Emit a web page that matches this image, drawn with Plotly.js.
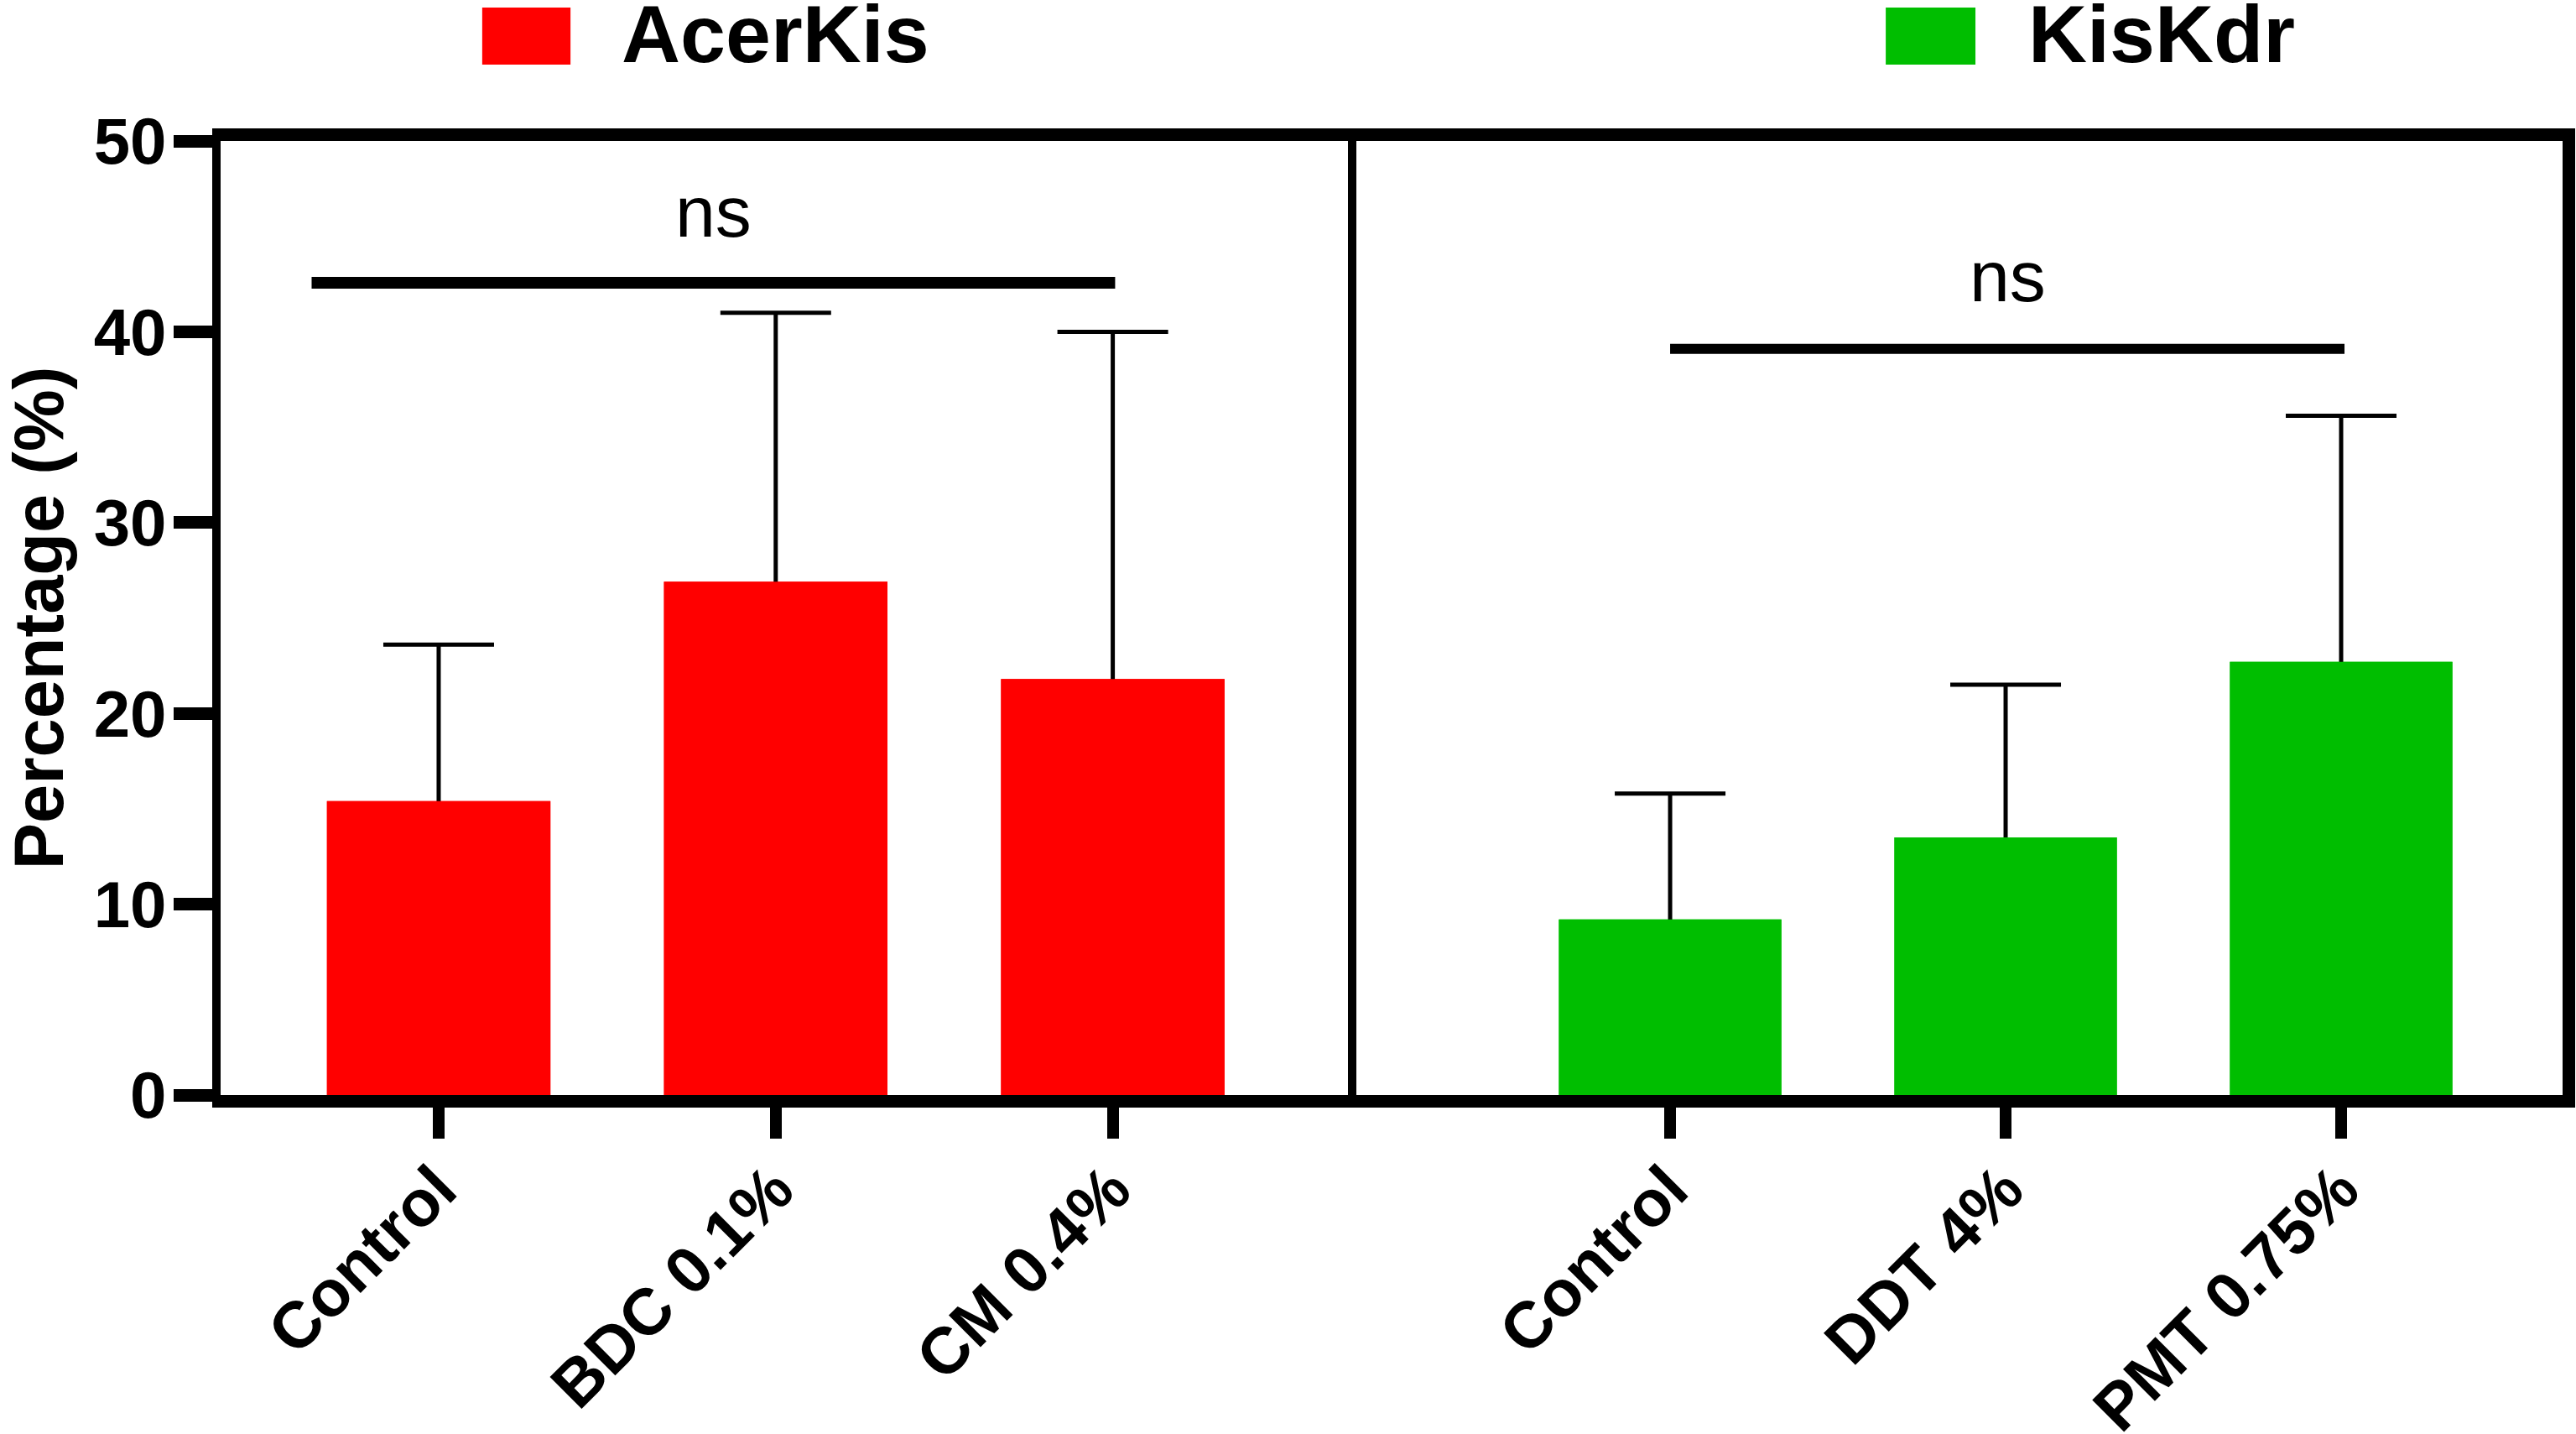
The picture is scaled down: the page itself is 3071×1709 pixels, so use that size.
<!DOCTYPE html>
<html>
<head>
<meta charset="utf-8">
<script src="https://cdn.plot.ly/plotly-3.0.1.min.js"></script>
<style>
  html, body { margin: 0; padding: 0; background: #fff; }
  #graph { width: 3071px; height: 1709px; }
</style>
</head>
<body>
<div id="graph"></div>
<script>
var acerGroups = ['Control', 'BDC 0.1%', 'CM 0.4%'];
var acerMean = [15.4, 26.9, 21.8];
var acerSD = [8.2, 14.1, 18.2];

var kdrGroups = ['Control', 'DDT 4%', 'PMT 0.75%'];
var kdrMean = [9.2, 13.5, 22.7];
var kdrSD = [6.6, 8.0, 12.9];

var yTicks = [0, 10, 20, 30, 40, 50];
var seriesNames = ['AcerKis', 'KisKdr'];
var sigText = ['ns', 'ns'];

var FONT = 'Arial, "Liberation Sans", sans-serif';
var RED = '#ff0000';
var GREEN = '#00be00';

function barTrace(x, y, sd, color, xa, ya) {
    // first copy carries the SD bars; the second copy covers the lower half
    var t = {x: x, y: y, type: 'bar', xaxis: xa, yaxis: ya,
        marker: {color: color, line: {width: 0}}, hoverinfo: 'skip', showlegend: false};
    if (sd) {
        t.error_y = {type: 'data', array: sd, symmetric: true, color: '#000', thickness: 5, width: 66};
    }
    return t;
}

var data = [
    barTrace(acerGroups, acerMean, acerSD, RED, 'x', 'y'),
    barTrace(acerGroups, acerMean, null, RED, 'x', 'y'),
    barTrace(kdrGroups, kdrMean, kdrSD, GREEN, 'x2', 'y2'),
    barTrace(kdrGroups, kdrMean, null, GREEN, 'x2', 'y2')
];

var xStyle = {
    type: 'category', showline: true, linewidth: 15, linecolor: '#000', mirror: true,
    ticks: 'outside', ticklen: 37, tickwidth: 14, tickcolor: '#000',
    tickangle: -45, ticklabelstandoff: -17, ticklabelshift: -2,
    tickfont: {family: FONT, size: 78, color: '#000', weight: 'bold'},
    showgrid: false, zeroline: false, fixedrange: true
};

var layout = {
    width: 3071, height: 1709,
    margin: {l: 263, r: 16, t: 168, b: 404},
    paper_bgcolor: '#fff', plot_bgcolor: '#fff',
    barmode: 'overlay', bargap: 0.337,
    showlegend: false,
    xaxis: Object.assign({}, xStyle, {domain: [0, 0.4814], range: [-0.647, 2.698], anchor: 'y'}),
    xaxis2: Object.assign({}, xStyle, {domain: [0.4814, 1], range: [-0.96, 2.66], anchor: 'y2'}),
    yaxis: {
        range: [0, 50], tickvals: yTicks, showline: true, linewidth: 10, linecolor: '#000', mirror: true,
        ticks: 'outside', ticklen: 46, tickwidth: 15, tickcolor: '#000', ticklabelstandoff: -7,
        tickfont: {family: FONT, size: 78, color: '#000', weight: 'bold'},
        showgrid: false, zeroline: false, fixedrange: true,
        title: {text: 'Percentage (%)', standoff: 51, font: {family: FONT, size: 83, color: '#000', weight: 'bold'}}
    },
    yaxis2: {
        anchor: 'x2', side: 'right', range: [0, 50], showline: true, linewidth: 15, linecolor: '#000',
        ticks: '', showticklabels: false, showgrid: false, zeroline: false, fixedrange: true
    },
    shapes: [
        // significance brackets
        {type: 'line', xref: 'x', yref: 'y', x0: -0.377, x1: 2.007, y0: 42.57, y1: 42.57, line: {color: '#000', width: 14}},
        {type: 'line', xref: 'x2', yref: 'y2', x0: 0, x1: 2.01, y0: 39.1, y1: 39.1, line: {color: '#000', width: 12}},
        // legend swatches
        {type: 'rect', xref: 'paper', yref: 'paper', x0: 0.1117, x1: 0.1494, y0: 1.080, y1: 1.1398, fillcolor: RED, line: {width: 0}},
        {type: 'rect', xref: 'paper', yref: 'paper', x0: 0.7110, x1: 0.7493, y0: 1.080, y1: 1.1398, fillcolor: GREEN, line: {width: 0}}
    ],
    annotations: [
        {text: sigText[0], xref: 'x', yref: 'y', x: 0.815, y: 46.3, xanchor: 'center', yanchor: 'middle', showarrow: false,
            font: {family: FONT, size: 86, color: '#000'}},
        {text: sigText[1], xref: 'x2', yref: 'y2', x: 1.005, y: 42.9, xanchor: 'center', yanchor: 'middle', showarrow: false,
            font: {family: FONT, size: 86, color: '#000'}},
        {text: seriesNames[0], xref: 'paper', yref: 'paper', x: 0.1705, y: 1.1117, xanchor: 'left', yanchor: 'middle', showarrow: false,
            font: {family: FONT, size: 97, color: '#000', weight: 'bold'}},
        {text: seriesNames[1], xref: 'paper', yref: 'paper', x: 0.7711, y: 1.1117, xanchor: 'left', yanchor: 'middle', showarrow: false,
            font: {family: FONT, size: 97, color: '#000', weight: 'bold'}}
    ]
};

Plotly.newPlot('graph', data, layout, {displayModeBar: false, staticPlot: true});
</script>
</body>
</html>
